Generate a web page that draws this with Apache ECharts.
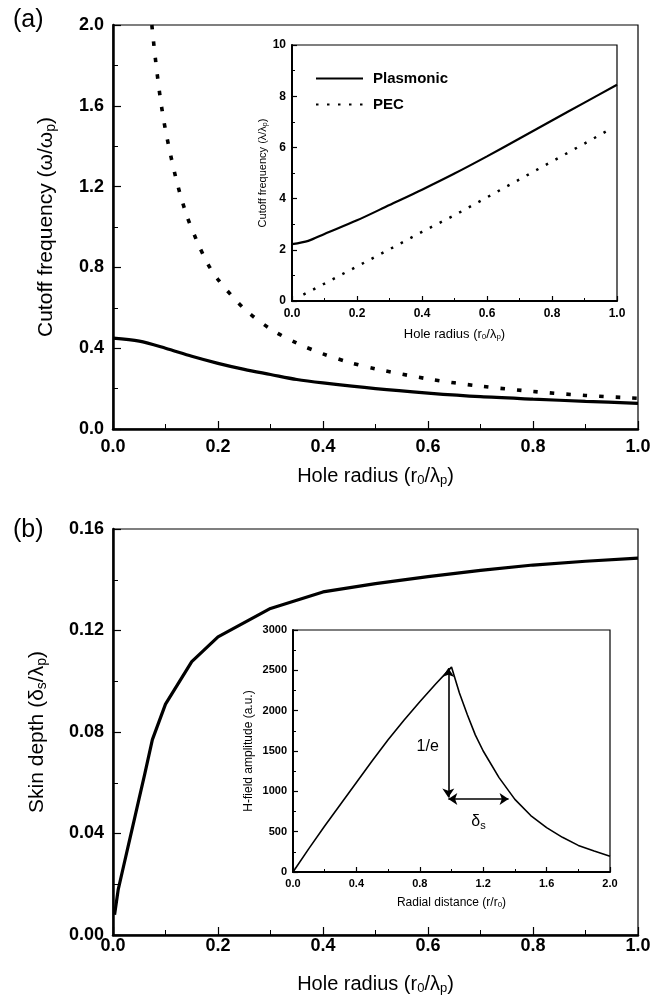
<!DOCTYPE html>
<html>
<head>
<meta charset="utf-8">
<title>Cutoff frequency and skin depth</title>
<script src="https://cdn.jsdelivr.net/npm/echarts@6/dist/echarts.min.js"></script>
</head>
<body style="margin:0;background:#fff">
<div id="main" style="width:653px;height:1006px"></div>
<script>
// (a) main: cutoff frequency (w/wp) vs hole radius (r0/lp)
var radiusA     = [0, 0.05, 0.1, 0.15, 0.2, 0.25, 0.3, 0.35, 0.4, 0.5, 0.6, 0.7, 0.8, 0.9, 1.0];
var plasmonicA  = [0.45, 0.435, 0.40, 0.36, 0.325, 0.295, 0.27, 0.245, 0.228, 0.20, 0.178, 0.16, 0.148, 0.137, 0.127];
var pecRadiusA  = [0.074, 0.08, 0.09, 0.1, 0.12, 0.14, 0.16, 0.18, 0.2, 0.25, 0.3, 0.35, 0.4, 0.45, 0.5, 0.6, 0.7, 0.8, 0.9, 1.0];
var pecA        = [2.0, 1.85, 1.64, 1.48, 1.24, 1.06, 0.93, 0.82, 0.74, 0.595, 0.495, 0.425, 0.372, 0.33, 0.298, 0.248, 0.212, 0.186, 0.166, 0.152];

// (a) inset: cutoff frequency (l/lp)
var insetRadius     = [0, 0.05, 0.1, 0.2, 0.3, 0.4, 0.5, 0.6, 0.7, 0.8, 0.9, 1.0];
var insetPlasmonic  = [2.22, 2.35, 2.62, 3.15, 3.75, 4.35, 4.98, 5.65, 6.35, 7.05, 7.75, 8.45];
var insetPecRadius  = [0.035, 0.1, 0.2, 0.3, 0.4, 0.5, 0.6, 0.7, 0.8, 0.9, 0.97];
var insetPec        = [0.25, 0.68, 1.35, 2.02, 2.7, 3.35, 4.05, 4.75, 5.45, 6.15, 6.65];

// (b) main: skin depth (ds/lp)
var radiusB   = [0.003, 0.01, 0.02, 0.03, 0.04, 0.05, 0.06, 0.075, 0.1, 0.15, 0.2, 0.3, 0.4, 0.5, 0.6, 0.7, 0.8, 0.9, 1.0];
var skinDepth = [0.008, 0.018, 0.027, 0.036, 0.045, 0.054, 0.063, 0.077, 0.091, 0.1077, 0.1175, 0.1287, 0.1352, 0.1385, 0.1412, 0.1437, 0.1458, 0.1473, 0.1485];

// (b) inset: H-field amplitude vs radial distance (r/r0)
var radialDist = [0, 0.1, 0.2, 0.3, 0.4, 0.5, 0.6, 0.7, 0.8, 0.9, 1.0, 1.05, 1.1, 1.15, 1.2, 1.3, 1.4, 1.5, 1.6, 1.7, 1.8, 1.9, 2.0];
var hField     = [0, 290, 570, 840, 1110, 1380, 1640, 1880, 2110, 2330, 2540, 2220, 1950, 1700, 1500, 1170, 900, 700, 550, 430, 330, 260, 195];

// annotations in the (b) inset
var riseArrow = [[0.98, 925], [0.98, 2530]];
var skinArrow = [[0.98, 905], [1.36, 905]];
var insetNotes = [
  { coord: [0.85, 1550], text: '1/e' },
  { coord: [1.17, 620], text: 'δ{s|s}' }
];

var FONT = '"Liberation Sans", Arial, sans-serif';

function pairs(xs, ys) {
  return xs.map(function (x, i) { return [x, ys[i]]; });
}

function axis(o) {
  return {
    type: 'value',
    gridIndex: o.grid,
    min: o.min, max: o.max, interval: o.interval,
    name: o.name, nameLocation: 'middle', nameGap: o.nameGap,
    nameTextStyle: {
      color: '#000', fontFamily: FONT, fontSize: o.nameSize,
      rich: { s: { fontSize: Math.round(o.nameSize * 0.65), padding: [Math.round(o.nameSize * 0.45), 0, 0, 0], fontFamily: FONT } }
    },
    axisLine: { show: true, onZero: false, lineStyle: { color: '#000', width: o.lineWidth } },
    axisTick: { show: true, inside: true, length: o.tick, lineStyle: { color: '#000', width: 1.2 } },
    minorTick: { show: true, splitNumber: 2, length: Math.round(o.tick * 0.6), lineStyle: { color: '#000', width: 1 } },
    splitLine: { show: false },
    minorSplitLine: { show: false },
    axisLabel: {
      color: '#000', fontFamily: FONT, fontWeight: 'bold', fontSize: o.labelSize,
      margin: o.margin, hideOverlap: false,
      formatter: function (v) { return o.digits == null ? String(v) : v.toFixed(o.digits); }
    }
  };
}

var chart = echarts.init(document.getElementById('main'), null, { renderer: 'canvas' });

var gridBase = { show: true, borderColor: '#000', borderWidth: 1.2, backgroundColor: 'transparent', containLabel: false, outerBoundsMode: 'none' };

chart.setOption({
  animation: false,
  backgroundColor: '#fff',
  title: [
    { text: '(a)', left: 8, top: 3, textStyle: { fontFamily: FONT, fontSize: 25, fontWeight: 'normal', color: '#000' } },
    { text: '(b)', left: 8, top: 513, textStyle: { fontFamily: FONT, fontSize: 25, fontWeight: 'normal', color: '#000' } }
  ],
  legend: {
    data: ['Plasmonic', 'PEC'],
    orient: 'vertical',
    left: 310, top: 66,
    itemWidth: 47, itemHeight: 14, itemGap: 11,
    selectedMode: false,
    itemStyle: { opacity: 0 },
    textStyle: { fontFamily: FONT, fontSize: 15, fontWeight: 'bold', color: '#000', padding: [0, 0, 0, 5] }
  },
  grid: [
    Object.assign({ left: 113, top: 25, width: 525, height: 404 }, gridBase),
    Object.assign({ left: 292, top: 45, width: 325, height: 256 }, gridBase),
    Object.assign({ left: 113, top: 529, width: 525, height: 406 }, gridBase),
    Object.assign({ left: 293, top: 630, width: 317, height: 242 }, gridBase)
  ],
  xAxis: [
    axis({ grid: 0, min: 0, max: 1, interval: 0.2, digits: 1, name: 'Hole radius (r{s|0}/λ{s|p})', nameGap: 36, nameSize: 20, labelSize: 18, margin: 9, tick: 8, lineWidth: 2.5 }),
    axis({ grid: 1, min: 0, max: 1, interval: 0.2, digits: 1, name: 'Hole radius (r{s|0}/λ{s|p})', nameGap: 26, nameSize: 13, labelSize: 12, margin: 7, tick: 5, lineWidth: 2 }),
    axis({ grid: 2, min: 0, max: 1, interval: 0.2, digits: 1, name: 'Hole radius (r{s|0}/λ{s|p})', nameGap: 38, nameSize: 20, labelSize: 18, margin: 2, tick: 8, lineWidth: 2.5 }),
    axis({ grid: 3, min: 0, max: 2, interval: 0.4, digits: 1, name: 'Radial distance (r/r{s|0})', nameGap: 24, nameSize: 12, labelSize: 11, margin: 6, tick: 5, lineWidth: 2 })
  ],
  yAxis: [
    axis({ grid: 0, min: 0, max: 2, interval: 0.4, digits: 1, name: 'Cutoff frequency (ω/ω{s|p})', nameGap: 55, nameSize: 21, labelSize: 18, margin: 9, tick: 8, lineWidth: 2.5 }),
    axis({ grid: 1, min: 0, max: 10, interval: 2, digits: null, name: 'Cutoff frequency (λ/λ{s|p})', nameGap: 20, nameSize: 11, labelSize: 12, margin: 6, tick: 5, lineWidth: 2 }),
    axis({ grid: 2, min: 0, max: 0.16, interval: 0.04, digits: 2, name: 'Skin depth (δ{s|s}/λ{s|p})', nameGap: 64, nameSize: 21, labelSize: 18, margin: 9, tick: 8, lineWidth: 2.5 }),
    axis({ grid: 3, min: 0, max: 3000, interval: 500, digits: null, name: 'H-field amplitude (a.u.)', nameGap: 38, nameSize: 12, labelSize: 11, margin: 6, tick: 5, lineWidth: 2 })
  ],
  series: [
    {
      name: 'Plasmonic', type: 'line', xAxisIndex: 1, yAxisIndex: 1,
      data: pairs(insetRadius, insetPlasmonic), symbol: 'none', smooth: 0.3,
      lineStyle: { color: '#000', width: 2.2 }, itemStyle: { color: '#000' }
    },
    {
      name: 'PEC', type: 'line', xAxisIndex: 1, yAxisIndex: 1,
      data: pairs(insetPecRadius, insetPec), symbol: 'none',
      lineStyle: { color: '#000', width: 2.5, type: [2.5, 8.5] }, itemStyle: { color: '#000' }
    },
    {
      name: 'Plasmonic', type: 'line', xAxisIndex: 0, yAxisIndex: 0,
      data: pairs(radiusA, plasmonicA), symbol: 'none', smooth: 0.3,
      lineStyle: { color: '#000', width: 3.2 }
    },
    {
      name: 'PEC', type: 'line', xAxisIndex: 0, yAxisIndex: 0,
      data: pairs(pecRadiusA, pecA), symbol: 'none', smooth: 0.3,
      lineStyle: { color: '#000', width: 3.6, type: [4.5, 12] }
    },
    {
      name: 'Skin depth', type: 'line', xAxisIndex: 2, yAxisIndex: 2,
      data: pairs(radiusB, skinDepth), symbol: 'none',
      lineStyle: { color: '#000', width: 3.2 }
    },
    {
      name: 'H-field', type: 'line', xAxisIndex: 3, yAxisIndex: 3,
      data: pairs(radialDist, hField), symbol: 'none',
      lineStyle: { color: '#000', width: 1.6 },
      markLine: {
        silent: true, symbol: ['arrow', 'arrow'], symbolSize: 9,
        lineStyle: { color: '#000', width: 1.6, type: 'solid' },
        itemStyle: { color: '#000' },
        label: { show: false },
        data: [
          [{ coord: riseArrow[0] }, { coord: riseArrow[1] }],
          [{ coord: skinArrow[0] }, { coord: skinArrow[1] }]
        ]
      },
      markPoint: {
        silent: true, symbol: 'rect', symbolSize: 1,
        itemStyle: { color: 'transparent' },
        label: {
          show: true, position: 'inside', color: '#000', fontFamily: FONT, fontSize: 16,
          formatter: function (p) { return p.name; },
          rich: { s: { fontSize: 11, padding: [8, 0, 0, 0], fontFamily: FONT } }
        },
        data: insetNotes.map(function (n) { return { coord: n.coord, name: n.text }; })
      }
    }
  ]
});
</script>
</body>
</html>
